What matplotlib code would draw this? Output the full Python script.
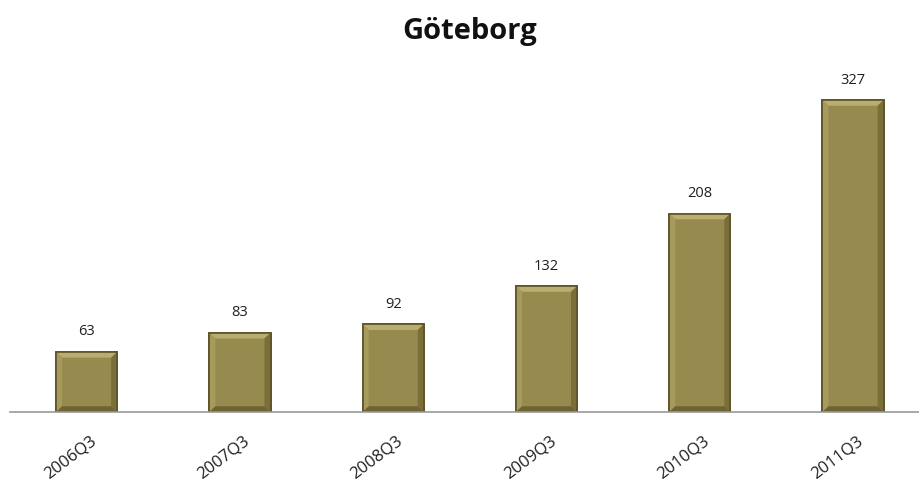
import matplotlib.pyplot as plt
from matplotlib.patches import Polygon
import matplotlib.transforms as mtransforms
import numpy as np

quarters = ["2006Q3", "2007Q3", "2008Q3", "2009Q3", "2010Q3", "2011Q3"]
values = [63, 83, 92, 132, 208, 327]

plt.rcParams["font.family"] = ["Open Sans", "DejaVu Sans"]

fig = plt.figure(figsize=(9.19, 4.84), dpi=100)
# baseline at y=412 px, left at x=10 px
ax = fig.add_axes([10 / 919, (484 - 412) / 484, 909 / 919, 312 / 484 * 340 / 327])

x = np.arange(len(quarters))
bars = ax.bar(x, values, width=0.4, color="#978a4f", edgecolor="#5c5227", linewidth=1.2, zorder=3)

ax.set_xlim(-0.5, 5.43)
ax.set_ylim(0, 340)

# bevel look: faces derived from each bar rectangle
dx, dy = 0.04, 6
for r in bars:
    x0, x1, h = r.get_x(), r.get_x() + r.get_width(), r.get_height()
    faces = [
        ([(x0, h), (x1, h), (x1 - dx, h - dy), (x0 + dx, h - dy)], "#b9ad70"),
        ([(x0, 0), (x0, h), (x0 + dx, h - dy), (x0 + dx, dy)], "#a69a5c"),
        ([(x1, 0), (x1, h), (x1 - dx, h - dy), (x1 - dx, dy)], "#7a6e39"),
        ([(x0, 0), (x1, 0), (x1 - dx, dy), (x0 + dx, dy)], "#6e6332"),
    ]
    for pts, c in faces:
        ax.add_patch(Polygon(pts, closed=True, facecolor=c, edgecolor="none", zorder=4))
    ax.add_patch(Polygon([(x0, 0), (x0, h), (x1, h), (x1, 0)], closed=True, fill=False,
                         edgecolor="#5c5227", linewidth=1.2, zorder=5))

for xi, v in zip(x, values):
    ax.annotate(str(v), (xi, v), xytext=(0, 9), textcoords="offset points",
                ha="center", va="bottom", fontsize=10.5, color="#1f1f1f")

ax.set_yticks([])
ax.set_xticks(x)
ax.set_xticklabels(quarters, rotation=37, ha="right", rotation_mode="anchor", fontsize=12, color="#1f1f1f")
ax.tick_params(axis="x", length=0, pad=15)
shift = mtransforms.ScaledTranslation(3 / 100, 0, fig.dpi_scale_trans)
for lbl in ax.get_xticklabels():
    lbl.set_transform(lbl.get_transform() + shift)
for s in ["top", "right", "left"]:
    ax.spines[s].set_visible(False)
ax.spines["bottom"].set_color("#9a9a9a")
ax.spines["bottom"].set_linewidth(1.2)
ax.spines["bottom"].set_zorder(6)

fig.text(470 / 919, 1 - 31 / 484, "Göteborg", ha="center", va="center", fontsize=21, fontweight="bold", color="#111111")

fig.savefig("out.png", dpi=100)
